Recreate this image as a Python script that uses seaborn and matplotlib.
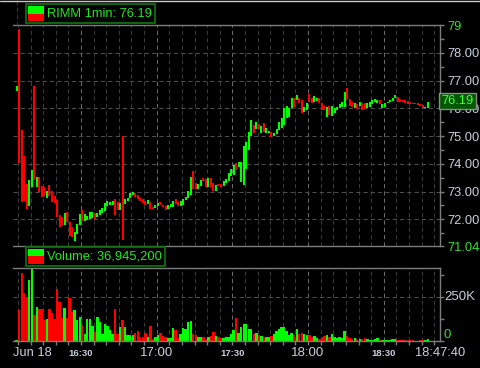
import numpy as np
import pandas as pd
import matplotlib
matplotlib.use("Agg")
import matplotlib.pyplot as plt
import matplotlib.transforms as mtransforms
from matplotlib.patches import Rectangle
from matplotlib.lines import Line2D
import seaborn as sns

# ---------------- data (1-minute bars, RIMM, Jun 18 after-hours) ----------------
start_minute = 4.5   # minutes after 16:00 of the first bar centre
highs = [76.80, 78.85, 75.22, 74.28, 73.27, 73.42, 73.78, 76.81, 73.53, 73.52,
         73.20, 73.17, 73.02, 73.23, 73.02, 72.84, 72.69, 72.16, 72.07, 72.22,
         72.27, 71.91, 71.73, 71.55, 71.83, 72.19, 72.33, 72.19, 72.12, 72.26,
         72.26, 72.22, 72.24, 72.33, 72.41, 72.60, 72.67, 72.62, 72.65, 72.72,
         72.62, 72.60, 75.00, 72.74, 72.77, 72.94, 73.00, 72.94, 72.87, 72.77,
         72.72, 72.67, 72.69, 72.62, 72.45, 72.53, 72.60, 72.62, 72.53, 72.48,
         72.53, 72.55, 72.65, 72.72, 72.62, 72.65, 72.74, 72.81, 73.02, 73.53,
         73.75, 73.30, 73.27, 73.41, 73.49, 73.44, 73.49, 73.49, 73.31, 73.23,
         73.27, 73.27, 73.38, 73.44, 73.67, 73.80, 73.97, 74.02, 74.06, 74.07,
         74.65, 74.80, 75.15, 75.58, 75.40, 75.50, 75.43, 75.36, 75.46, 75.28,
         75.19, 75.13, 75.10, 75.25, 75.49, 75.66, 76.00, 76.09, 76.02, 76.38,
         76.38, 76.48, 76.38, 76.30, 76.05, 76.18, 76.50, 76.38, 76.45, 76.38,
         76.36, 76.18, 76.09, 76.05, 76.09, 76.09, 76.02, 76.05, 76.14, 76.23,
         76.57, 76.72, 76.33, 76.21, 76.18, 76.14, 76.21, 76.18, 76.18, 76.18,
         76.23, 76.30, 76.33, 76.30, 76.30, 76.14, 76.18, 76.23, 76.30, 76.38,
         76.48, 76.41, 76.33, 76.30, 76.30, 76.27, 76.21, 76.20, 76.20, 76.18,
         76.15, 76.12, 76.05, 76.21]
lows = [76.62, 74.03, 72.62, 72.67, 72.37, 72.48, 73.16, 73.42, 73.17, 72.99,
        72.81, 72.84, 72.77, 72.85, 72.63, 72.60, 72.08, 71.73, 71.79, 71.79,
        71.91, 71.40, 71.35, 71.22, 71.47, 71.79, 71.95, 71.95, 71.97, 72.00,
        72.04, 71.97, 72.07, 72.15, 72.22, 72.31, 72.48, 72.50, 72.51, 72.14,
        72.33, 72.33, 71.25, 72.55, 72.67, 72.76, 72.86, 72.79, 72.74, 72.67,
        72.60, 72.50, 72.55, 72.36, 72.37, 72.42, 72.48, 72.50, 72.43, 72.33,
        72.38, 72.45, 72.45, 72.55, 72.49, 72.48, 72.53, 72.69, 72.76, 72.87,
        73.08, 73.08, 73.08, 73.20, 73.39, 73.15, 73.16, 73.17, 73.03, 73.03,
        73.20, 73.17, 73.20, 73.32, 73.38, 73.56, 73.58, 73.76, 73.87, 73.35,
        73.25, 73.80, 74.50, 75.00, 75.11, 75.26, 75.26, 75.11, 75.15, 75.10,
        75.10, 74.97, 75.01, 75.06, 75.22, 75.28, 75.40, 75.64, 75.69, 76.00,
        76.05, 76.30, 76.18, 75.82, 75.87, 75.94, 76.23, 76.18, 76.23, 76.26,
        76.18, 75.94, 75.94, 75.67, 75.76, 75.73, 75.82, 75.94, 76.00, 76.05,
        76.05, 76.33, 76.09, 76.05, 76.02, 75.97, 76.09, 75.94, 75.97, 76.00,
        76.05, 76.15, 76.21, 76.18, 76.14, 76.02, 76.05, 76.18, 76.21, 76.26,
        76.36, 76.23, 76.21, 76.21, 76.18, 76.15, 76.14, 76.15, 76.14, 76.12,
        76.09, 76.00, 76.00, 76.00]
up = [1, 0, 0, 0, 0, 1, 1, 0, 1, 0,
      0, 0, 1, 0, 0, 0, 0, 0, 0, 1,
      0, 0, 0, 1, 1, 1, 0, 1, 1, 1,
      1, 0, 1, 1, 1, 1, 1, 1, 1, 0,
      0, 1, 0, 1, 1, 1, 1, 0, 0, 0,
      0, 0, 1, 0, 0, 1, 1, 0, 0, 0,
      1, 1, 1, 0, 0, 1, 1, 1, 1, 1,
      0, 0, 1, 1, 0, 0, 1, 0, 0, 1,
      0, 0, 1, 1, 1, 1, 1, 0, 1, 1,
      1, 1, 1, 1, 0, 1, 0, 1, 0, 1,
      1, 0, 1, 1, 1, 1, 1, 1, 1, 1,
      0, 1, 0, 0, 1, 1, 0, 0, 1, 1,
      0, 0, 0, 1, 0, 1, 1, 1, 1, 1,
      1, 0, 0, 0, 1, 0, 1, 0, 0, 1,
      1, 1, 1, 1, 0, 1, 1, 1, 1, 1,
      1, 0, 0, 0, 0, 0, 0, 0, 0, 0,
      0, 0, 1, 1]
volume_k = [6, 177, 391, 273, 250, 349, 416, 150, 196, 181,
            181, 120, 124, 181, 158, 128, 296, 223, 132, 187,
            130, 246, 166, 177, 120, 135, 90, 40, 126, 128,
            86, 53, 135, 107, 38, 99, 86, 63, 40, 183,
            38, 82, 120, 78, 34, 34, 34, 44, 59, 21,
            21, 44, 21, 86, 11, 21, 34, 44, 30, 21,
            15, 15, 72, 63, 15, 40, 72, 67, 110, 116,
            40, 34, 21, 21, 21, 11, 21, 30, 53, 29,
            21, 15, 15, 21, 21, 40, 63, 131, 44, 80,
            99, 99, 67, 67, 40, 44, 34, 30, 15, 21,
            25, 30, 40, 59, 67, 78, 78, 57, 34, 44,
            34, 67, 38, 44, 38, 34, 34, 25, 30, 15,
            11, 25, 30, 34, 25, 38, 25, 15, 25, 15,
            59, 30, 15, 11, 15, 11, 11, 11, 19, 11,
            6, 6, 11, 15, 4, 6, 4, 6, 6, 10,
            10, 4, 6, 4, 6, 4, 6, 4, 2, 2,
            6, 6, 6, 11]

price_ticks = [71.04, 72, 73, 74, 75, 76, 77, 78, 79]
price_labels = ["71.04", "72.00", "73.00", "74.00", "75.00", "76.00", "77.00", "78.00", "79"]
time_ticks = [30, 60, 90, 120, 150]
time_labels = ["16:30", "17:00", "17:30", "18:00", "18:30"]
date_label = "Jun 18"
last_time_label = "18:47:40"
last_price = 76.19
title_price = "RIMM 1min: 76.19"
title_volume = "Volume: 36,945,200"

# ---------------- styling ----------------
W, H = 481, 368
GREEN = "#00ff00"
RED = "#ff0000"
TXT = "#c8d0dc"
LGREEN = "#33e033"
AXC = "#7c7c7c"

sns.set_theme(style="dark", rc={
    "figure.facecolor": "black", "axes.facecolor": "black",
    "axes.edgecolor": AXC, "savefig.facecolor": "black",
})
plt.rcParams["font.family"] = ["Liberation Sans", "DejaVu Sans"]

n = len(highs)
t = start_minute + np.arange(n)
df = pd.DataFrame({"t": t, "high": highs, "low": lows,
                   "dir": np.where(np.array(up) == 1, "up", "down"),
                   "vol": np.array(volume_k) * 1000.0})
palette = {"up": GREEN, "down": RED}

fig = plt.figure(figsize=(W / 100, H / 100), dpi=100)


def fx(px):
    return px / W


def fy(py):
    return 1 - py / H


L, R = 13, 440
axp = fig.add_axes([fx(L), fy(246), fx(R - L), (246 - 25) / H])
axv = fig.add_axes([fx(L), fy(341), fx(R - L), (341 - 268) / H])
XMIN, XMAX = 3.05, 172.3

for ax in (axp, axv):
    ax.set_facecolor("black")
    ax.set_xlim(XMIN, XMAX)
    for s in ("top", "right", "bottom"):
        ax.spines[s].set_visible(True)
        ax.spines[s].set_color(AXC)
        ax.spines[s].set_linewidth(1.0)
    ax.spines["left"].set_visible(False)
    ax.grid(False)
    for m in range(5, 171, 5):
        ax.axvline(m, color="#6a6a6a" if m % 30 == 0 else "#3a3a3a",
                   lw=0.75, ls=(0, (4, 3)), zorder=0.5)

# ---- price panel ----
for y in range(72, 79):
    axp.axhline(y, color="#4e4e4e", lw=0.75, ls=(0, (4, 3)), zorder=0.5)
axp.vlines(df["t"], df["low"], df["high"],
           colors=[palette[d] for d in df["dir"]], linewidth=1.5, zorder=2)
axp.set_ylim(71.04, 79)
axp.yaxis.tick_right()
axp.set_yticks(price_ticks)
axp.set_yticklabels(price_labels)
axp.set_yticks(np.arange(71.5, 79, 1.0), minor=True)
axp.tick_params(axis="y", which="both", right=True, left=False, direction="out",
                length=3, width=1, color=AXC, labelsize=9.3, labelcolor=TXT, pad=2.5)
axp.tick_params(axis="x", which="both", bottom=False, labelbottom=False)
for lab in axp.get_yticklabels():
    if lab.get_text() in ("79", "71.04"):
        lab.set_color(LGREEN)

# dashed stub above the price panel (first time grid line)
fig.add_artist(Line2D([fx(17.3), fx(17.3)], [fy(0), fy(25)], transform=fig.transFigure,
                      color="#3a3a3a", lw=0.75, ls=(0, (4, 3))))

# last price marker
axp.text(1.0 + 1.5 / (R - L), last_price + 0.07, f"{last_price:.2f}",
         transform=mtransforms.blended_transform_factory(axp.transAxes, axp.transData),
         ha="left", va="center", fontsize=9.3, color="#44ff44", clip_on=False, zorder=10,
         bbox=dict(boxstyle="square,pad=0.18", fc="#005800", ec="#8a8a8a", lw=1.0))

# ---- volume panel ----
axv.axhline(250000, color="#4e4e4e", lw=0.75, ls=(0, (4, 3)), zorder=0.5)
sns.barplot(data=df, x="t", y="vol", hue="dir", palette=palette, native_scale=True,
            dodge=False, width=0.95, legend=False, errorbar=None, saturation=1,
            linewidth=0, ax=axv, zorder=2)
axv.set_xlim(XMIN, XMAX)
axv.set_ylim(0, 417000)
axv.set_xlabel("")
axv.set_ylabel("")
axv.yaxis.tick_right()
axv.set_yticks([0, 125000, 250000, 375000])
axv.set_yticklabels([])
axv.tick_params(axis="y", which="both", right=True, left=False, direction="out",
                length=3, width=1, color=AXC)
axv.set_xticks(list(range(5, 171, 5)))
axv.set_xticklabels([])
axv.tick_params(axis="x", bottom=True, direction="out", length=3, width=1, color=AXC)

ty = mtransforms.blended_transform_factory(axv.transAxes, axv.transData)
axv.text(1.0 + 4 / (R - L), 250000, "250K", transform=ty, ha="left", va="center",
         fontsize=9.5, color=TXT, clip_on=False)
axv.text(1.0 + 4 / (R - L), 0, "0", transform=ty, ha="left", va="bottom",
         fontsize=9.5, color=LGREEN, clip_on=False)

# x labels
tx = mtransforms.blended_transform_factory(axv.transData, axv.transAxes)
ylab = (341 - 353) / 73
axv.text(0.0, ylab, date_label, transform=axv.transAxes, ha="left", va="center",
         fontsize=9.3, color=TXT, clip_on=False)
for m, lab in zip(time_ticks, time_labels):
    big = (m % 60 == 0)
    axv.text(m, ylab, lab, transform=tx, ha="center", va="center",
             fontsize=9.5 if big else 6.8, fontweight="normal" if big else "bold",
             color=TXT, clip_on=False)
axv.text(1.0, ylab, last_time_label, transform=axv.transAxes, ha="center", va="center",
         fontsize=9.3, color=TXT, clip_on=False)


# ---- legend boxes ----
def legend_box(x0, y0, x1, y1, label):
    fig.add_artist(Rectangle((fx(x0), fy(y1)), fx(x1 - x0), (y1 - y0) / H,
                             transform=fig.transFigure, fc="black", ec="#0d6e0d", lw=1.3,
                             zorder=20))
    mid = (y0 + y1) / 2
    fig.add_artist(Rectangle((fx(x0 + 2.5), fy(mid)), fx(16), (mid - y0 - 2) / H,
                             transform=fig.transFigure, fc=GREEN, ec="none", zorder=21))
    fig.add_artist(Rectangle((fx(x0 + 2.5), fy(y1 - 2)), fx(16), (y1 - 2 - mid) / H,
                             transform=fig.transFigure, fc=RED, ec="none", zorder=21))
    fig.text(fx(x0 + 21), fy(mid + 0.3), label, ha="left", va="center", fontsize=9.3,
             color="#22e822", zorder=22)


legend_box(26, 4, 155.5, 23.3, title_price)
legend_box(26, 246.7, 165.5, 266, title_volume)

# top light border
fig.add_artist(Line2D([0, 1], [fy(0.5), fy(0.5)], transform=fig.transFigure,
                      color="#c8c8c8", lw=1.0))

fig.savefig("out.png", dpi=100, facecolor="black")
